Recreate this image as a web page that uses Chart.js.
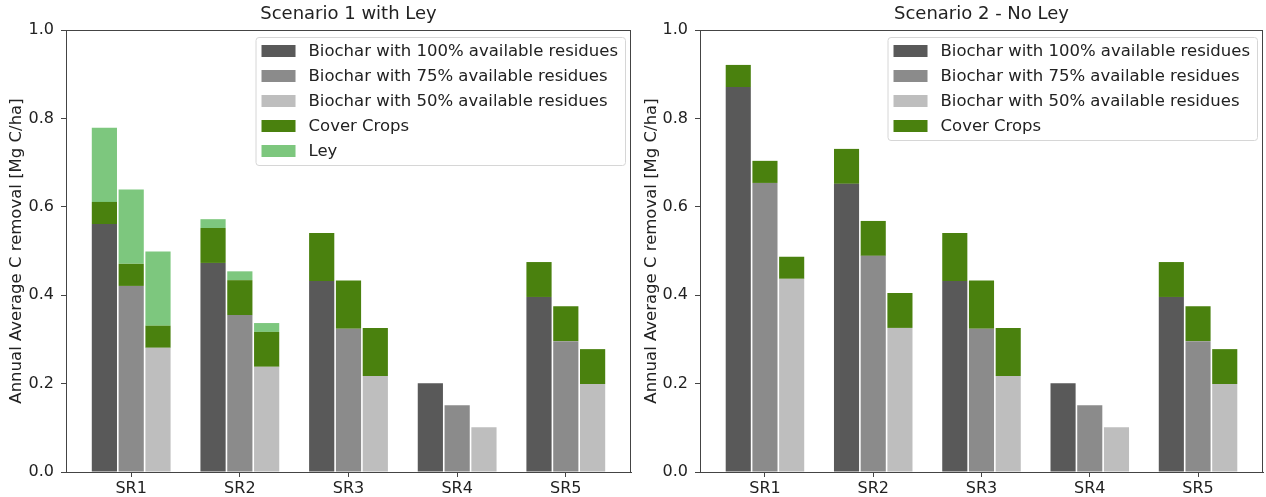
<!DOCTYPE html>
<html>
<head>
<meta charset="utf-8">
<script src="https://cdn.jsdelivr.net/npm/chart.js@4.4.1/dist/chart.umd.min.js"></script>
<style>
  body { margin: 0; background: #fff; width: 1266px; height: 497px; overflow: hidden; position: relative; }
  #c1 { position: absolute; left: 0; top: 0; }
  #c2 { position: absolute; left: 635px; top: 0; }
</style>
</head>
<body>
<canvas id="c1" width="635" height="497"></canvas>
<canvas id="c2" width="631" height="497"></canvas>
<script>
var categories = ["SR1", "SR2", "SR3", "SR4", "SR5"];
var yTicks = [0.0, 0.2, 0.4, 0.6, 0.8, 1.0];

// scenario 1 - with ley (segment heights, Mg C/ha)
var biochar100_s1 = [0.561, 0.473, 0.432, 0.201, 0.396];
var biochar75_s1  = [0.421, 0.355, 0.324, 0.151, 0.296];
var biochar50_s1  = [0.281, 0.238, 0.217, 0.101, 0.199];
var coverCrops_s1 = [0.050, 0.079, 0.109, 0, 0.079];
var ley_s1        = [0.168, 0.020, 0, 0, 0];

// scenario 2 - no ley
var biochar100_s2 = [0.871, 0.652, 0.432, 0.201, 0.396];
var biochar75_s2  = [0.654, 0.489, 0.324, 0.151, 0.296];
var biochar50_s2  = [0.437, 0.326, 0.217, 0.101, 0.199];
var coverCrops_s2 = [0.050, 0.079, 0.109, 0, 0.079];

var FONT = "'DejaVu Sans', sans-serif";
var TXT = "#222";
var AXIS = "#444";

function barSet(label, vals, color, stack, inLegend) {
  return {
    label: label,
    data: vals.map(function (v, i) { return { x: i, y: v }; }),
    backgroundColor: color,
    stack: stack,
    inLegend: inLegend,
    borderWidth: 0,
    categoryPercentage: 0.74,
    barPercentage: 0.94
  };
}

// title, frame and matplotlib-like legend inside the axes
var panelDeco = {
  id: "panelDeco",
  afterDraw: function (chart) {
    var ctx = chart.ctx, a = chart.chartArea;
    ctx.save();
    ctx.strokeStyle = AXIS;
    ctx.lineWidth = 1;
    ctx.strokeRect(Math.round(a.left) + 0.5, Math.round(a.top) + 0.5,
      Math.round(a.right - a.left) - 1, Math.round(a.bottom - a.top));

    ctx.fillStyle = TXT;
    ctx.font = "18px " + FONT;
    ctx.textAlign = "center";
    ctx.textBaseline = "middle";
    ctx.fillText(chart.options.panelTitle, (a.left + a.right) / 2, 14);

    var items = chart.data.datasets.filter(function (d) { return d.inLegend; });
    ctx.font = "16.5px " + FONT;
    var maxW = 0;
    items.forEach(function (d) { maxW = Math.max(maxW, ctx.measureText(d.label).width); });
    var rowH = 25, sw = 34, sh = 12;
    var boxW = 6 + sw + 13 + maxW + 7;
    var boxH = items.length * rowH + 3;
    var bx = a.right - 6 - boxW, by = a.top + 7;
    ctx.beginPath();
    ctx.roundRect(bx + 0.5, by + 0.5, boxW, boxH, 3);
    ctx.fillStyle = "rgba(255,255,255,0.85)";
    ctx.fill();
    ctx.strokeStyle = "#d6d6d6";
    ctx.stroke();
    ctx.textAlign = "left";
    items.forEach(function (d, i) {
      var cy = by + 14 + i * rowH;
      ctx.fillStyle = d.backgroundColor;
      ctx.fillRect(bx + 6, cy - sh / 2, sw, sh);
      ctx.fillStyle = TXT;
      ctx.fillText(d.label, bx + 6 + sw + 13, cy + 1);
    });
    ctx.restore();
  }
};

function makePanel(id, title, b100, b75, b50, cc, ley, yWidth, padRight) {
  var datasets = [
    barSet("Biochar with 100% available residues", b100, "#595959", "a", true),
    barSet("Biochar with 75% available residues", b75, "#8b8b8b", "b", true),
    barSet("Biochar with 50% available residues", b50, "#bebebe", "c", true),
    barSet("Cover Crops", cc, "#4a810e", "a", true),
    barSet("Cover Crops", cc, "#4a810e", "b", false),
    barSet("Cover Crops", cc, "#4a810e", "c", false)
  ];
  if (ley) {
    datasets.push(barSet("Ley", ley, "#7dc77e", "a", true));
    datasets.push(barSet("Ley", ley, "#7dc77e", "b", false));
    datasets.push(barSet("Ley", ley, "#7dc77e", "c", false));
  }

  return new Chart(document.getElementById(id), {
    type: "bar",
    data: { datasets: datasets },
    plugins: [panelDeco],
    options: {
      panelTitle: title,
      responsive: false,
      animation: false,
      devicePixelRatio: 1,
      layout: { padding: { top: 30, right: padRight, bottom: 0, left: 0 } },
      plugins: { legend: { display: false }, tooltip: { enabled: false }, title: { display: false } },
      scales: {
        x: {
          type: "linear",
          min: -0.6,
          max: 4.6,
          offset: false,
          afterBuildTicks: function (s) {
            s.ticks = categories.map(function (c, i) { return { value: i }; });
          },
          ticks: {
            callback: function (v) { return categories[v]; },
            font: { family: FONT, size: 16 },
            color: TXT,
            padding: 2,
            autoSkip: false,
            maxRotation: 0
          },
          grid: { display: true, drawOnChartArea: false, tickLength: 5, color: AXIS, offset: false },
          border: { color: AXIS },
          afterFit: function (s) { s.height = 25; }
        },
        y: {
          min: 0,
          max: 1,
          stacked: true,
          afterBuildTicks: function (s) {
            s.ticks = yTicks.map(function (v) { return { value: v }; });
          },
          ticks: {
            callback: function (v) { return v.toFixed(1); },
            font: { family: FONT, size: 16 },
            color: TXT,
            padding: 7
          },
          grid: { display: true, drawOnChartArea: false, tickLength: 5, color: AXIS },
          border: { color: AXIS },
          title: {
            display: true,
            text: "Annual Average C removal [Mg C/ha]",
            font: { family: FONT, size: 16.5 },
            color: TXT,
            padding: { top: 7, bottom: 0 }
          },
          afterFit: function (s) { s.width = yWidth; }
        }
      }
    }
  });
}

makePanel("c1", "Scenario 1 with Ley", biochar100_s1, biochar75_s1, biochar50_s1, coverCrops_s1, ley_s1, 66, 4);
makePanel("c2", "Scenario 2 - No Ley", biochar100_s2, biochar75_s2, biochar50_s2, coverCrops_s2, null, 65, 3);
</script>
</body>
</html>
